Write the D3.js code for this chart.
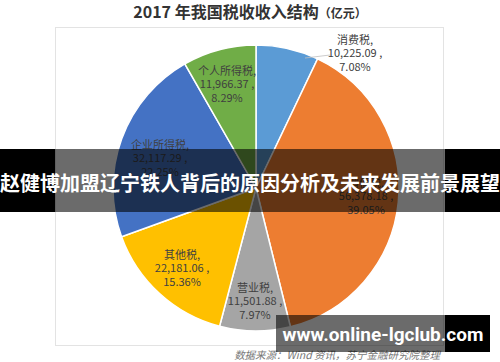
<!DOCTYPE html>
<html>
<head>
<meta charset="utf-8">
<script src="https://cdn.jsdelivr.net/npm/d3@7"></script>
<style>
  body { margin: 0; background: #fff; }
  svg { display: block; font-family: "Noto Sans CJK SC", "Noto Sans", sans-serif; }
</style>
</head>
<body>
<svg id="chart" width="500" height="362"></svg>
<script>
// data
const categories = ['消费税', '增值税', '营业税', '其他税', '企业所得税', '个人所得税'];
const amounts = [10225.09, 56378.18, 11501.88, 22181.06, 32117.29, 11966.37];
const pctLabels = ['7.08%', '39.05%', '7.97%', '15.36%', '22.25%', '8.29%'];
const colors = ['#5B9BD5', '#ED7D31', '#A5A5A5', '#FFC000', '#4472C4', '#70AD47'];

// label centres (x, first line y)
const labelPos = [[355, 40], [366, 183], [255, 288], [182, 255], [160, 145], [227, 71]];

const svg = d3.select('#chart');
const cx = 256, cy = 188, r = 143;

// chart box
svg.append('rect')
  .attr('x', 55.5).attr('y', 27.5)
  .attr('width', 388).attr('height', 318)
  .attr('fill', '#fff')
  .attr('stroke', '#e3e3e3');

// title
const title = svg.append('text')
  .attr('x', 250).attr('y', 18)
  .attr('text-anchor', 'middle')
  .attr('fill', '#333')
  .attr('font-weight', 'bold');
title.append('tspan').attr('font-size', 16).text('2017 年我国税收收入结构');
title.append('tspan').attr('font-size', 12).text('（亿元）');

const pie = d3.pie().sort(null).value(d => d);
const arc = d3.arc().innerRadius(0).outerRadius(r);
const arcs = pie(amounts);

const g = svg.append('g').attr('transform', `translate(${cx},${cy})`);

g.selectAll('path')
  .data(arcs)
  .join('path')
  .attr('d', arc)
  .attr('fill', (d, i) => colors[i])
  .attr('stroke', '#fff')
  .attr('stroke-width', 1.5);

// leader line for the small slice outside the pie
svg.append('line')
  .attr('x1', 305).attr('y1', 58)
  .attr('x2', 330).attr('y2', 55)
  .attr('stroke', '#bfbfbf')
  .attr('stroke-width', 0.8);

// slice labels
const labels = svg.selectAll('.lbl')
  .data(arcs)
  .join('text')
  .attr('class', 'lbl')
  .attr('text-anchor', 'middle')
  .attr('font-size', 11)
  .attr('fill', '#404040');

labels.each(function (d, i) {
  const t = d3.select(this);
  const [x, y] = labelPos[i];
  const lines = [categories[i] + ',', d3.format(',.2f')(d.data) + ' ,', pctLabels[i]];
  lines.forEach((s, j) => {
    t.append('tspan')
      .attr('x', x)
      .attr('y', y + j * 13.5)
      .attr('dy', '0.35em')
      .text(s);
  });
});

// source note
svg.append('text')
  .attr('x', 440).attr('y', 355)
  .attr('dy', '0.35em')
  .attr('text-anchor', 'end')
  .attr('font-size', 10.5)
  .attr('font-style', 'italic')
  .attr('fill', '#777')
  .text('数据来源：Wind 资讯，苏宁金融研究院整理');

// headline banner overlay
svg.append('rect').attr('x', 0).attr('y', 149).attr('width', 55).attr('height', 63).attr('fill', '#000');
svg.append('rect').attr('x', 55).attr('y', 149).attr('width', 390).attr('height', 63).attr('fill', '#000').attr('opacity', 0.58);
svg.append('rect').attr('x', 445).attr('y', 149).attr('width', 55).attr('height', 63).attr('fill', '#000');
svg.append('text')
  .attr('x', 250).attr('y', 184)
  .attr('dy', '0.35em')
  .attr('text-anchor', 'middle')
  .attr('font-size', 20)
  .attr('font-weight', 'bold')
  .attr('fill', '#fff')
  .text('赵健博加盟辽宁铁人背后的原因分析及未来发展前景展望');

// site watermark
svg.append('rect').attr('x', 276).attr('y', 315).attr('width', 169).attr('height', 37).attr('fill', '#000').attr('opacity', 0.58);
svg.append('rect').attr('x', 445).attr('y', 315).attr('width', 45).attr('height', 37).attr('fill', '#000');
svg.append('text')
  .attr('x', 383).attr('y', 334)
  .attr('dy', '0.35em')
  .attr('text-anchor', 'middle')
  .attr('font-size', 19)
  .attr('font-weight', 'bold')
  .attr('font-family', 'Roboto, "Open Sans", sans-serif')
  .attr('fill', '#fff')
  .text('www.online-lgclub.com');
</script>
</body>
</html>
